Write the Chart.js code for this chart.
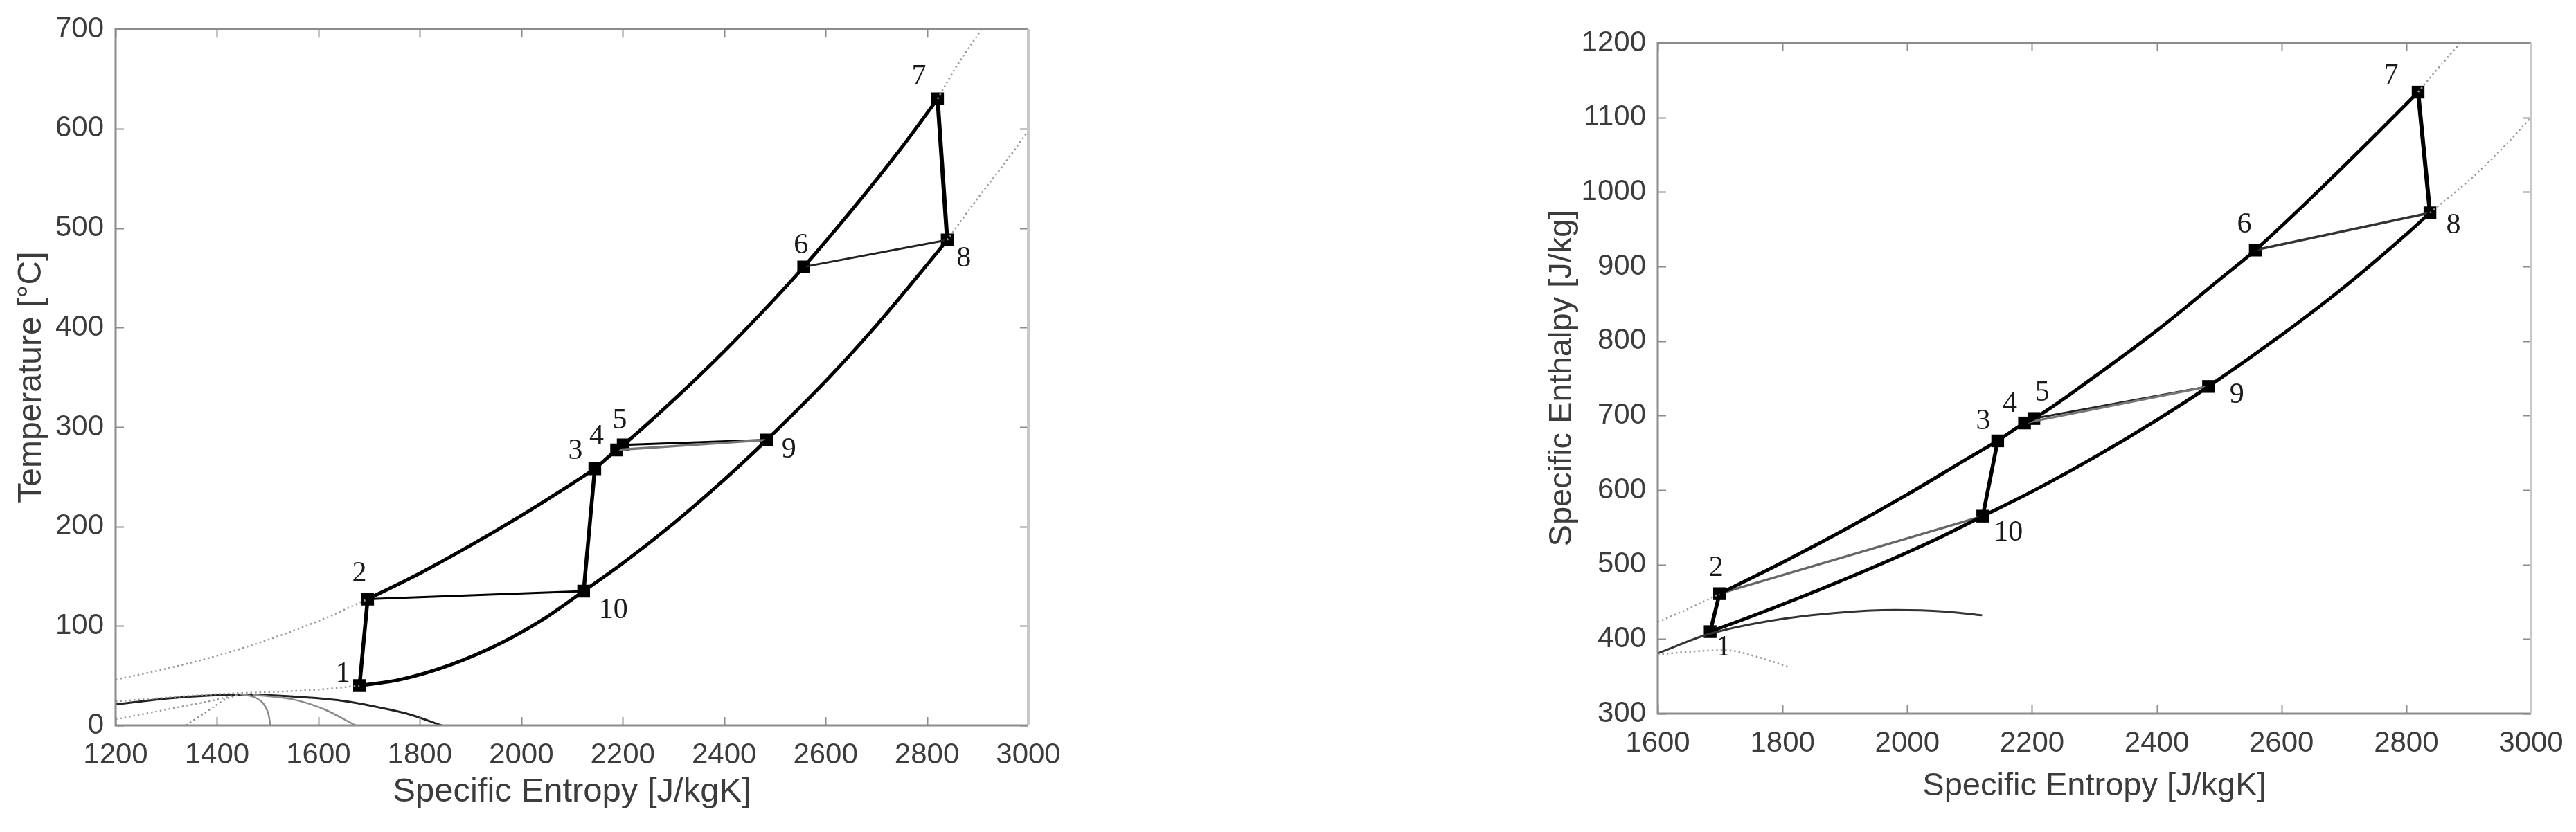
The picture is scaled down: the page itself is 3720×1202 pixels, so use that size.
<!DOCTYPE html>
<html><head><meta charset="utf-8">
<script src="https://cdn.jsdelivr.net/npm/chart.js@4/dist/chart.umd.min.js"></script>
<style>
html,body{margin:0;padding:0;background:#fff;width:3720px;height:1202px;overflow:hidden}
.wrap{position:absolute;top:0}
</style></head>
<body>
<div class="wrap" style="left:0;width:1560px;height:1202px"><canvas id="c1" width="1560" height="1202"></canvas></div>
<div class="wrap" style="left:2200px;width:1520px;height:1202px"><canvas id="c2" width="1520" height="1202"></canvas></div>
<script>
// ---------- DATA ----------
const stateLabels = ['1','2','3','4','5','6','7','8','9','10'];
// T-s diagram state points
const tsS = [1681,1697,2145,2188,2201,2557,2821,2840,2484,2123];
const tsT = [40,127,258,277,282,461,630,488,287,135];
// h-s diagram state points
const hsS = [1684,1699,2145,2188,2203,2558,2819,2838,2483,2121];
const hsH = [410,461,666,690,696,922,1134,972,739,565];

// T-s curves
const ts23S = [1697,1800,1900,2000,2100,2145];
const ts23T = [127,153,181,211,243,258];
const ts37S = [2145,2188,2201,2300,2400,2500,2557,2650,2750,2821];
const ts37T = [258,277,282,327,376,429,461,517,581,630];
const ts110S = [1681,1761,1861,1961,2041,2123];
const ts110T = [40,46,61,83,106,135];
const ts108S = [2123,2200,2300,2400,2484,2600,2700,2800,2840];
const ts108T = [135,163,203,247,287,346,402,463,488];
// T-s saturation dome & extensions
const domeS = [1200,1300,1400,1450,1500,1580,1650,1720,1780,1843];
const domeT = [21,27,30.5,31,30.5,28,24.5,18,11,0];
const domeG1S = [1339,1380,1420,1445];
const domeG1T = [0,14,27,31];
const domeG2S = [1445,1475,1494,1502,1505];
const domeG2T = [31.5,28,20,10,0];
const domeG3S = [1470,1551,1612,1673];
const domeG3T = [31,26,16,0];
const tsDot1S = [1200,1300,1400,1500,1600,1697];
const tsDot1T = [46,57,70,86,105,127];
const tsDot2S = [1200,1300,1400,1500,1600,1681];
const tsDot2T = [24,28,31.5,33.5,36,40];
const tsDot3S = [1200,1300,1400,1440];
const tsDot3T = [6,16,26,31];
const tsDot4S = [2821,2860,2908];
const tsDot4T = [630,664,700];
const tsDot5S = [2840,2900,2950,3000];
const tsDot5T = [488,530,563,598];

// h-s curves
const hs23S = [1699,1800,1900,2000,2100,2145];
const hs23H = [461,503,547,594,644,666];
const hs37S = [2145,2188,2203,2300,2400,2500,2558,2650,2750,2819];
const hs37H = [666,690,696,752,814,882,922,994,1076,1134];
const hs110S = [1684,1761,1861,1961,2041,2121];
const hs110H = [410,434,467,502,532,565];
const hs108S = [2121,2200,2300,2400,2483,2600,2700,2800,2838];
const hs108H = [565,598,644,694,739,808,872,943,972];
const hsDomeS = [1600,1683,1783,1882,1981,2060,2120];
const hsDomeH = [381,407,425,435,439,437,432];
const hsDot1S = [1600,1650,1708,1760,1808];
const hsDot1H = [379,383,385,376,363];
const hsDot2S = [1600,1650,1699];
const hsDot2H = [423,441,461];
const hsDot3S = [2819,2850,2887];
const hsDot3H = [1134,1165,1200];
const hsDot4S = [2838,2900,2950,3000];
const hsDot4H = [972,1015,1055,1100];

// axes
const tsXTicks = {min:1200,max:3000,step:200};
const tsYTicks = {min:0,max:700,step:100};
const hsXTicks = {min:1600,max:3000,step:200};
const hsYTicks = {min:300,max:1200,step:100};
const xTitle = 'Specific Entropy [J/kgK]';
const tsYTitle = 'Temperature [°C]';
const hsYTitle = 'Specific Enthalpy [J/kg]';

// ---------- STYLE ----------
const tsLabelOff = [[-24,-17],[-12,-37],[-28,-25],[-29,-19],[-5,-35],[-4,-31],[-27,-32],[24,27],[32,14],[43,28]];
const hsLabelOff = [[19,23],[-5,-37],[-21,-28],[-21,-27],[12,-37],[-16,-36],[-39,-23],[34,18],[41,13],[37,24]];

function pts(xs, ys){ return xs.map((v,i)=>({x:v,y:ys[i]})); }
function curve(xs, ys, w, c){ return {data:pts(xs,ys), showLine:true, borderColor:c||'#000', borderWidth:w||5, pointRadius:0, cubicInterpolationMode:'monotone', fill:false}; }
function dotted(xs, ys, c){ return {data:pts(xs,ys), showLine:true, borderColor:c||'#9a9a9a', borderWidth:2.5, borderDash:[2.5,4], pointRadius:0, cubicInterpolationMode:'monotone', fill:false}; }
function seg(S, V, i, j, w, c){ return {data:[{x:S[i],y:V[i]},{x:S[j],y:V[j]}], showLine:true, borderColor:c||'#000', borderWidth:w, pointRadius:0, fill:false}; }
function markers(S, V){ return {data:pts(S,V), showLine:false, pointStyle:'rect', pointRadius:13, pointHoverRadius:13, pointBackgroundColor:'#000', pointBorderColor:'#000', pointBorderWidth:0}; }

const boxPlugin = {
  id:'boxTicks',
  afterDraw(chart){
    const {ctx, chartArea:a, scales:{x,y}} = chart;
    ctx.save();
    ctx.lineWidth = 2; ctx.strokeStyle = '#8c8c8c';
    const tl = 12;
    ctx.beginPath();
    x.ticks.forEach(t=>{ const p = Math.round(x.getPixelForValue(t.value))+0.5; ctx.moveTo(p,a.bottom); ctx.lineTo(p,a.bottom-tl); ctx.moveTo(p,a.top); ctx.lineTo(p,a.top+tl); });
    y.ticks.forEach(t=>{ const p = Math.round(y.getPixelForValue(t.value))+0.5; ctx.moveTo(a.left,p); ctx.lineTo(a.left+tl,p); ctx.moveTo(a.right,p); ctx.lineTo(a.right-tl,p); });
    ctx.stroke();
    ctx.lineWidth = 3; ctx.strokeStyle = '#8c8c8c';
    ctx.beginPath();
    ctx.moveTo(a.right, a.top); ctx.lineTo(a.left, a.top); ctx.lineTo(a.left, a.bottom); ctx.lineTo(a.right, a.bottom);
    ctx.stroke();
    ctx.lineWidth = 4; ctx.strokeStyle = '#c8c8c8';
    ctx.beginPath(); ctx.moveTo(a.right, a.top); ctx.lineTo(a.right, a.bottom); ctx.stroke();
    ctx.restore();
  }
};
const labelPlugin = {
  id:'stateLabels',
  afterDatasetsDraw(chart, args, opts){
    const {ctx, scales:{x,y}} = chart;
    ctx.save();
    ctx.font = '42px "Liberation Serif", "DejaVu Serif", serif';
    ctx.fillStyle = '#1a1a1a'; ctx.textAlign = 'center'; ctx.textBaseline = 'middle';
    opts.s.forEach((sv,i)=>{
      const px = x.getPixelForValue(sv) + opts.off[i][0];
      const py = y.getPixelForValue(opts.v[i]) + opts.off[i][1];
      ctx.fillText(stateLabels[i], px, py);
    });
    ctx.restore();
  }
};

function makeOptions(xr, yr, yTitle, pad, yW, xH, yTitlePad, xTitlePad, xTS, yTS, S, V, off){
  const tickFont = {family:'"Liberation Sans", Arial, sans-serif', size:42};
  return {
    responsive:false, animation:false, devicePixelRatio:1,
    layout:{padding:pad},
    plugins:{legend:{display:false}, tooltip:{enabled:false}, stateLabels:{s:S, v:V, off:off}},
    scales:{
      x:{type:'linear', min:xr.min, max:xr.max,
         ticks:{stepSize:xr.step, font:tickFont, color:'#3c3c3c', padding:18, maxRotation:0, autoSkip:false, callback:v=>String(v)},
         grid:{display:false, drawTicks:false}, border:{display:false},
         title:{display:true, text:xTitle, font:{family:'"Liberation Sans", Arial, sans-serif', size:xTS}, color:'#3c3c3c', padding:{top:0,bottom:xTitlePad}},
         afterFit(s){ s.height = xH; }},
      y:{type:'linear', min:yr.min, max:yr.max,
         ticks:{stepSize:yr.step, font:tickFont, color:'#3c3c3c', padding:17, autoSkip:false, callback:v=>String(v)},
         grid:{display:false, drawTicks:false}, border:{display:false},
         title:{display:true, text:yTitle, font:{family:'"Liberation Sans", Arial, sans-serif', size:yTS}, color:'#3c3c3c', padding:{top:yTitlePad,bottom:0}},
         afterFit(s){ s.width = yW; }}
    }
  };
}

// ---------- T-s chart ----------
const tsDatasets = [
  dotted(tsDot1S, tsDot1T), dotted(tsDot2S, tsDot2T), dotted(tsDot3S, tsDot3T),
  dotted(tsDot4S, tsDot4T), dotted(tsDot5S, tsDot5T),
  dotted(domeG1S, domeG1T, '#8a8a8a'),
  curve(domeG2S, domeG2T, 2.5, '#8a8a8a'),
  curve(domeG3S, domeG3T, 2.5, '#8a8a8a'),
  curve(domeS, domeT, 3, '#222'),
  curve(ts23S, ts23T), curve(ts37S, ts37T), curve(ts110S, ts110T), curve(ts108S, ts108T),
  seg(tsS, tsT, 0, 1, 5.5), seg(tsS, tsT, 2, 9, 5.5), seg(tsS, tsT, 6, 7, 6),
  seg(tsS, tsT, 1, 9, 3), seg(tsS, tsT, 5, 7, 3, '#222'),
  seg(tsS, tsT, 3, 8, 3.5, '#777'), seg(tsS, tsT, 4, 8, 3),
  markers(tsS, tsT)
];
new Chart(document.getElementById('c1'), {
  type:'scatter', data:{datasets:tsDatasets},
  options: makeOptions(tsXTicks, tsYTicks, tsYTitle, {top:37,right:75,left:0,bottom:0}, 167, 154, 17, 28, 49, 48, tsS, tsT, tsLabelOff),
  plugins:[boxPlugin, labelPlugin]
});

// ---------- h-s chart ----------
const hsDatasets = [
  dotted(hsDot1S, hsDot1H), dotted(hsDot2S, hsDot2H), dotted(hsDot3S, hsDot3H), dotted(hsDot4S, hsDot4H),
  curve(hsDomeS, hsDomeH, 3, '#333'),
  curve(hs23S, hs23H), curve(hs37S, hs37H), curve(hs110S, hs110H), curve(hs108S, hs108H),
  seg(hsS, hsH, 0, 1, 5.5), seg(hsS, hsH, 2, 9, 5.5), seg(hsS, hsH, 6, 7, 6),
  seg(hsS, hsH, 1, 9, 3.5, '#666'), seg(hsS, hsH, 5, 7, 3.5, '#333'),
  seg(hsS, hsH, 3, 8, 3.5, '#777'), seg(hsS, hsH, 4, 8, 3, '#222'),
  markers(hsS, hsH)
];
new Chart(document.getElementById('c2'), {
  type:'scatter', data:{datasets:hsDatasets},
  options: makeOptions(hsXTicks, hsYTicks, hsYTitle, {top:62,right:65,left:0,bottom:0}, 194, 171, 28, 38, 47, 47, hsS, hsH, hsLabelOff),
  plugins:[boxPlugin, labelPlugin]
});
</script>
</body></html>
